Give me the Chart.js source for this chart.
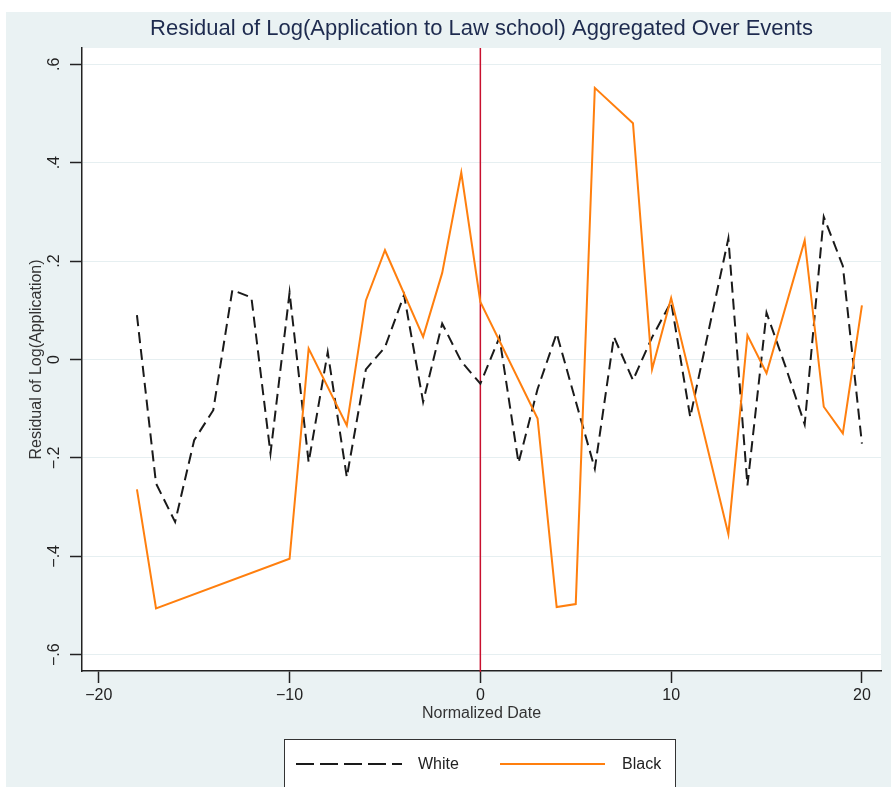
<!DOCTYPE html>
<html>
<head>
<meta charset="utf-8">
<script src="https://cdn.jsdelivr.net/npm/chart.js@4"></script>
<style>
  html, body { margin: 0; padding: 0; background: #ffffff; }
  #wrap { width: 891px; height: 787px; }
</style>
</head>
<body>
<div id="wrap"><canvas id="chart" width="891" height="787"></canvas></div>
<script>
// ---- data ----
const whiteDates = [-18, -17, -16, -15, -14, -13, -12, -11, -10, -9, -8, -7, -6, -5, -4, -3, -2, -1, 0,
  1, 2, 3, 4, 5, 6, 7, 8, 9, 10, 11, 12, 13, 14, 15, 16, 17, 18, 19, 20];
const whiteValues = [0.090, -0.252, -0.330, -0.164, -0.103, 0.141, 0.126, -0.191, 0.136, -0.209, 0.015, -0.239, -0.020, 0.025, 0.131, -0.086, 0.073, -0.004, -0.049,
  0.045, -0.210, -0.060, 0.053, -0.085, -0.222, 0.046, -0.042, 0.045, 0.117, -0.117, 0.065, 0.246, -0.256, 0.095, -0.015, -0.132, 0.290, 0.190, -0.171];

const blackDates = [-18, -17, -10, -9, -7, -6, -5, -3, -2, -1, 0, 3, 4, 5, 6, 8, 9, 10, 13, 14, 15, 17, 18, 19, 20];
const blackValues = [-0.264, -0.506, -0.405, 0.022, -0.134, 0.120, 0.222, 0.046, 0.176, 0.380, 0.117, -0.120, -0.503, -0.497, 0.552, 0.480, -0.020, 0.125, -0.355, 0.049, -0.028, 0.242, -0.096, -0.150, 0.110];

const eventDate = 0;

const xTicks = [-20, -10, 0, 10, 20];
const xTickLabels = ['\u221220', '\u221210', '0', '10', '20'];
const yTicks = [-0.6, -0.4, -0.2, 0, 0.2, 0.4, 0.6];
const yTickLabels = ['\u2212.6', '\u2212.4', '\u2212.2', '0', '.2', '.4', '.6'];

const seriesNames = ['White', 'Black'];

const toPoints = (xs, ys) => xs.map((x, i) => ({ x: x, y: ys[i] }));

Chart.defaults.font.family = "'Liberation Sans', Arial, sans-serif";
Chart.defaults.color = '#222';

// graph region, white plot region + event line
const plotBg = {
  id: 'plotBg',
  beforeDraw(chart) {
    const { ctx, chartArea: a, width, height } = chart;
    ctx.save();
    ctx.fillStyle = '#eaf2f3';
    ctx.fillRect(6, 12, width - 6, height - 12);
    ctx.fillStyle = '#ffffff';
    ctx.fillRect(a.left, a.top, a.right - a.left, a.bottom - a.top);
    ctx.restore();
  },
  beforeDatasetsDraw(chart) {
    const { ctx, chartArea: a } = chart;
    const x = chart.scales.x.getPixelForValue(eventDate);
    ctx.save();
    ctx.strokeStyle = '#c8102e';
    ctx.lineWidth = 1.5;
    ctx.beginPath();
    ctx.moveTo(x, a.top);
    ctx.lineTo(x, a.bottom + 1);
    ctx.stroke();
    ctx.restore();
  }
};

// rotated y tick labels (Stata style) and boxed legend
const extras = {
  id: 'extras',
  afterDraw(chart) {
    const { ctx } = chart;
    const ys = chart.scales.y;
    ctx.save();
    ctx.fillStyle = '#222';
    ctx.font = "16px 'Liberation Sans', Arial, sans-serif";
    ctx.textAlign = 'center';
    ctx.textBaseline = 'middle';
    ys.ticks.forEach((t, i) => {
      const y = ys.getPixelForValue(t.value);
      ctx.save();
      ctx.translate(55, y);
      ctx.rotate(-Math.PI / 2);
      ctx.fillText(yTickLabels[i], 0, 0);
      ctx.restore();
    });

    // legend box
    ctx.fillStyle = '#ffffff';
    ctx.fillRect(284, 739, 392, 60);
    ctx.strokeStyle = '#333';
    ctx.lineWidth = 1;
    ctx.strokeRect(284.5, 739.5, 391, 60);

    const items = [
      { x0: 296, x1: 402, tx: 418 },
      { x0: 500, x1: 605, tx: 622 }
    ];
    chart.data.datasets.forEach((ds, i) => {
      const it = items[i];
      ctx.strokeStyle = ds.borderColor;
      ctx.lineWidth = ds.borderWidth;
      ctx.setLineDash(ds.borderDash && ds.borderDash.length ? [18, 6] : []);
      ctx.beginPath();
      ctx.moveTo(it.x0, 764);
      ctx.lineTo(it.x1, 764);
      ctx.stroke();
      ctx.setLineDash([]);
      ctx.fillStyle = '#222';
      ctx.textAlign = 'left';
      ctx.fillText(ds.label, it.tx, 765);
    });
    ctx.restore();
  }
};

new Chart(document.getElementById('chart'), {
  type: 'line',
  data: {
    datasets: [
      {
        label: seriesNames[0],
        data: toPoints(whiteDates, whiteValues),
        borderColor: '#1a1a1a',
        borderWidth: 2,
        borderDash: [11, 6],
        pointRadius: 0,
        tension: 0,
        order: 1
      },
      {
        label: seriesNames[1],
        data: toPoints(blackDates, blackValues),
        borderColor: 'rgb(255,127,14)',
        borderWidth: 2,
        pointRadius: 0,
        tension: 0,
        order: 0
      }
    ]
  },
  options: {
    responsive: false,
    animation: false,
    devicePixelRatio: 1,
    layout: { padding: { left: 0, right: 10, top: 0, bottom: 0 } },
    plugins: {
      legend: { display: false },
      tooltip: { enabled: false },
      title: {
        display: true,
        fullSize: false,
        text: 'Residual of Log(Application to Law school) Aggregated Over Events',
        color: '#1e2b4f',
        font: { size: 22, weight: 'normal' },
        padding: { top: 16, bottom: 5.6 }
      }
    },
    scales: {
      x: {
        type: 'linear',
        min: -20.88,
        max: 21.0,
        afterBuildTicks: s => { s.ticks = xTicks.map(v => ({ value: v })); },
        afterFit: s => { s.height = 116; },
        grid: { display: true, drawOnChartArea: false, drawTicks: true, tickLength: 12, tickColor: '#222', tickWidth: 1.5 },
        border: { display: true, color: '#222', width: 1.5 },
        ticks: {
          padding: 3,
          font: { size: 16 },
          color: '#222',
          maxRotation: 0,
          callback: (v, i) => xTickLabels[i]
        },
        title: {
          display: true,
          text: 'Normalized Date',
          font: { size: 16 },
          color: '#333',
          padding: { top: 0, bottom: 64 }
        }
      },
      y: {
        min: -0.633,
        max: 0.633,
        afterBuildTicks: s => { s.ticks = yTicks.map(v => ({ value: v })); },
        afterFit: s => { s.width = 82; },
        grid: { color: 'rgb(230,239,241)', lineWidth: 1, drawTicks: true, tickLength: 12, tickColor: '#222', tickWidth: 1.5 },
        border: { display: true, color: '#222', width: 1.5 },
        ticks: { display: false },
        title: {
          display: true,
          text: 'Residual of Log(Application)',
          font: { size: 16 },
          color: '#333',
          padding: { top: 27, bottom: 0 }
        }
      }
    }
  },
  plugins: [plotBg, extras]
});
</script>
</body>
</html>
